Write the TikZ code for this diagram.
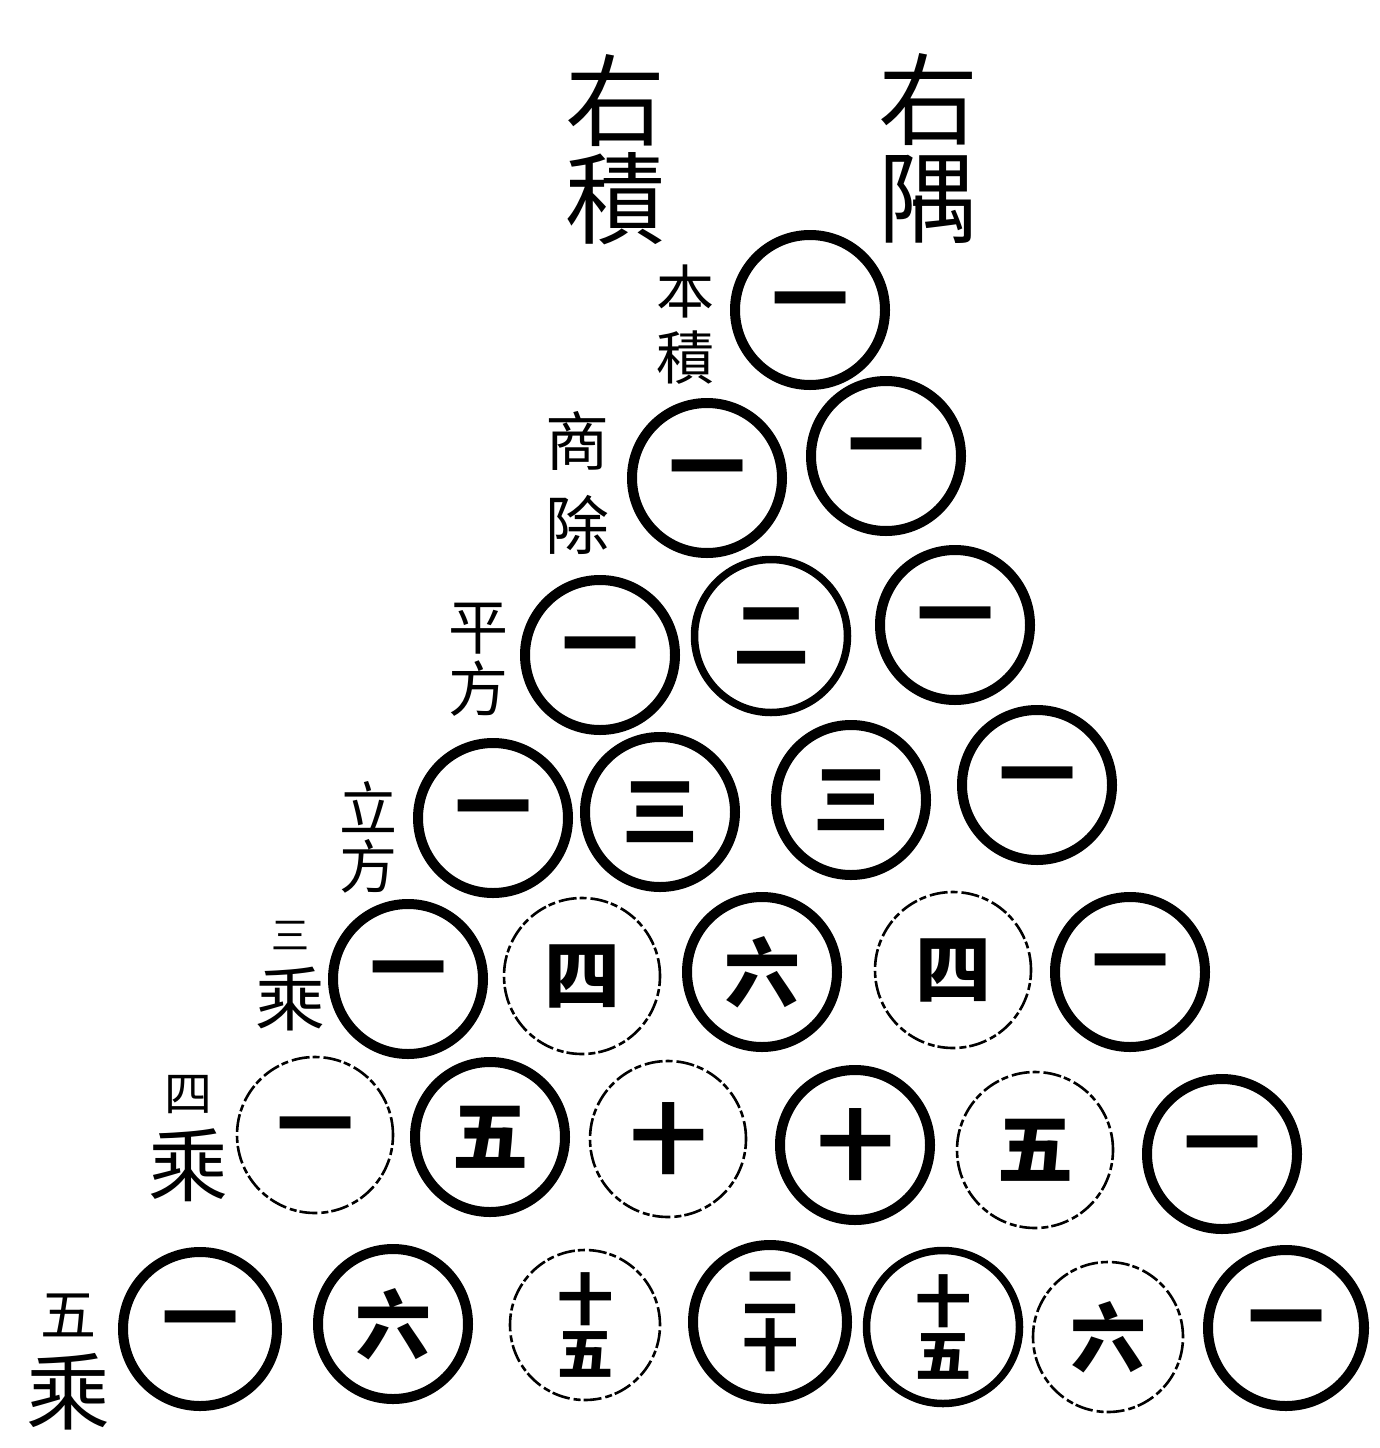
\documentclass[tikz,border=0pt]{standalone}
\usepackage{fontspec}
\newfontfamily\cjk{Noto Sans CJK TC}
\begin{document}
\begin{tikzpicture}[x=1pt,y=-1pt,
  bead/.style={circle, draw=black, line width=10pt, minimum size=150pt, inner sep=0pt, align=center,
    font=\cjk\bfseries\fontsize{76}{76}\selectfont},
  midbead/.style={bead, line width=7.5pt, minimum size=153pt},
  pale/.style={bead, line width=2.6pt, minimum size=156pt, dash pattern=on 18pt off 4pt on 7pt off 3pt},
  two/.style={font=\cjk\bfseries\fontsize{56}{54}\selectfont},
  biglbl/.style={align=center, inner sep=0pt, font=\cjk\fontsize{100}{98}\selectfont},
  sidelbl/.style={align=center, inner sep=0pt, font=\cjk\fontsize{62}{66}\selectfont}]
\useasboundingbox (0,0) rectangle (1379,1448);
% top labels
\node[biglbl] (youji) at (615,150) {右\\積};
\node[biglbl] (youyu) at (928,148) {右\\隅};
% side labels
\node[sidelbl, font=\cjk\fontsize{58}{66}\selectfont] (benji) at (685,325) {本\\積};
\node[sidelbl, font=\cjk\fontsize{64}{84}\selectfont] (shangchu) at (577,483) {商\\除};
\node[sidelbl, font=\cjk\fontsize{60}{62}\selectfont] (pingfang) at (478,660) {平\\方};
\node[sidelbl, font=\cjk\fontsize{58}{58}\selectfont] (lifang) at (368,837) {立\\方};
\node[sidelbl, font=\cjk\fontsize{70}{76}\selectfont] (sancheng) at (290,976) {{\fontsize{38}{38}\selectfont 三}\\乘};
\node[sidelbl, font=\cjk\fontsize{80}{84}\selectfont] (sicheng) at (188,1139) {{\fontsize{48}{48}\selectfont 四}\\乘};
\node[sidelbl, font=\cjk\fontsize{84}{88}\selectfont] (wucheng) at (68,1362) {{\fontsize{56}{56}\selectfont 五}\\乘};
% row 1
\node[bead] (c11) at (810,310) {一};
% row 2
\node[bead] (c21) at (707,478) {一};
\node[bead] (c22) at (886,456) {一};
% row 3
\node[bead] (c31) at (600,655) {一};
\node[midbead] (c32) at (771,636) {二};
\node[bead] (c33) at (955,625) {一};
% row 4
\node[bead] (c41) at (493,818) {一};
\node[bead] (c42) at (660,812) {三};
\node[bead] (c43) at (851,800) {三};
\node[bead] (c44) at (1037,785) {一};
% row 5
\node[bead] (c51) at (408,979) {一};
\node[pale] (c52) at (582,976) {四};
\node[bead] (c53) at (762,972) {六};
\node[pale] (c54) at (953,970) {四};
\node[bead] (c55) at (1130,972) {一};
% row 6
\node[pale] (c61) at (315,1135) {一};
\node[bead] (c62) at (490,1137) {五};
\node[pale] (c63) at (668,1139) {十};
\node[bead] (c64) at (855,1145) {十};
\node[pale] (c65) at (1035,1150) {五};
\node[bead] (c66) at (1222,1154) {一};
% row 7
\node[bead, minimum size=154pt] (c71) at (200,1329) {一};
\node[bead] (c72) at (393,1324) {六};
\node[pale, two, minimum size=150pt] (c73) at (585,1325) {十\\五};
\node[bead, two, minimum size=154pt] (c74) at (770,1322) {二\\十};
\node[midbead, two] (c75) at (943,1327) {十\\五};
\node[pale, minimum size=150pt] (c76) at (1108,1337) {六};
\node[bead, minimum size=156pt] (c77) at (1286,1328) {一};
\end{tikzpicture}
\end{document}
